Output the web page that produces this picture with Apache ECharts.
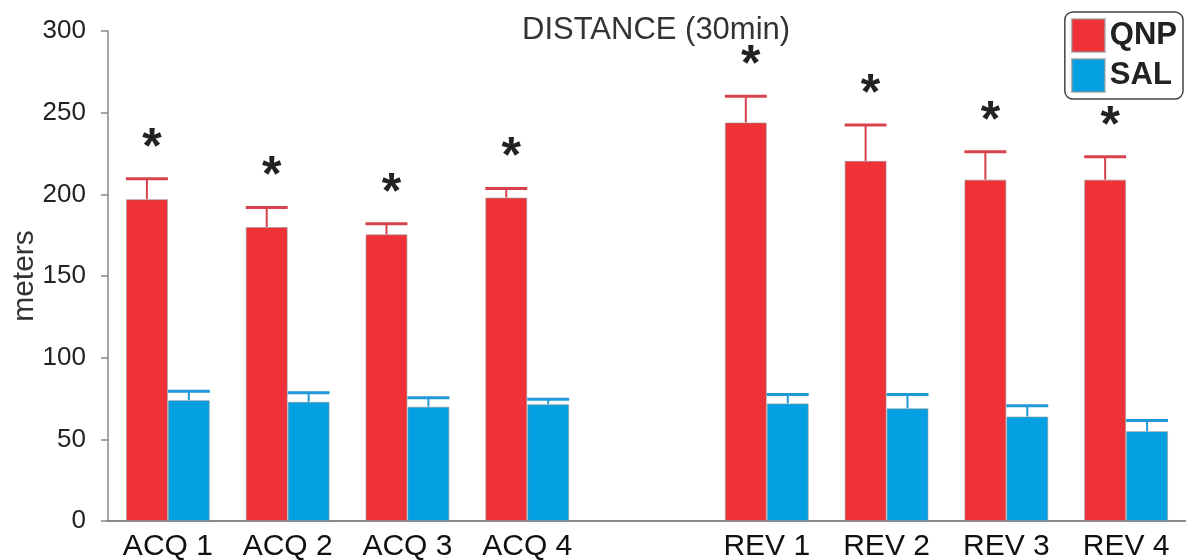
<!DOCTYPE html>
<html>
<head>
<meta charset="utf-8">
<script src="https://cdn.jsdelivr.net/npm/echarts@6/dist/echarts.min.js"></script>
<style>
html,body{margin:0;padding:0;background:#fff;}
#chart{width:1186px;height:560px;}
</style>
</head>
<body>
<div id="chart"></div>
<script>
var categories = ['ACQ 1','ACQ 2','ACQ 3','ACQ 4','','REV 1','REV 2','REV 3','REV 4'];
var qnpMean = [197, 180, 175.5, 198, null, 244, 220.5, 209, 209];
var qnpErrTop = [209.5, 192, 182, 203.5, null, 260, 242.5, 226, 223];
var salMean = [74, 73, 70, 71.5, null, 72, 69, 64, 55];
var salErrTop = [79.5, 78.5, 75.5, 74.5, null, 77.5, 77.5, 70.5, 61.5];
var significant = [true, true, true, true, false, true, true, true, true];
var yTicks = [0, 50, 100, 150, 200, 250, 300];

var RED = '#EE3237', BLUE = '#04A0E2';
var RED_ERR = '#D8424C', BLUE_ERR = '#1E98D6';

function errData(mean, top) {
  var out = [];
  for (var i = 0; i < mean.length; i++) {
    if (mean[i] != null) out.push([i, mean[i], top[i], significant[i] ? 1 : 0]);
  }
  return out;
}

function errRender(sign, color, withStar) {
  return function (params, api) {
    var xi = api.value(0), v = api.value(1), e = api.value(2);
    var base = api.coord([xi, v]);
    var top = api.coord([xi, e]);
    var band = api.size([1, 0])[0];
    var bw = band * 0.35;
    var cx = base[0] + sign * bw / 2;
    var children = [
      {type: 'line', shape: {x1: cx, y1: base[1], x2: cx, y2: top[1]}, style: {stroke: color, lineWidth: 2}},
      {type: 'line', shape: {x1: cx - bw / 2, y1: top[1], x2: cx + bw / 2, y2: top[1]}, style: {stroke: color, lineWidth: 3}}
    ];
    if (withStar && api.value(3)) {
      children.push({
        type: 'text',
        x: cx + 5, y: top[1] - 30,
        style: {text: '*', fill: '#222', font: 'bold 50px "Liberation Sans", Arial, sans-serif', align: 'center', verticalAlign: 'middle'}
      });
    }
    return {type: 'group', children: children};
  };
}

var chart = echarts.init(document.getElementById('chart'));
chart.setOption({
  animation: false,
  textStyle: {fontFamily: '"Liberation Sans", Arial, sans-serif'},
  title: {
    text: 'DISTANCE (30min)',
    left: 517, top: 10,
    textStyle: {fontSize: 31, fontWeight: 'normal', color: '#333'}
  },
  legend: {
    data: ['QNP', 'SAL'],
    orient: 'vertical',
    right: 3, top: 12,
    icon: 'rect',
    itemWidth: 33, itemHeight: 33, itemGap: 5,
    padding: [6, 6, 6, 6],
    borderColor: '#444', borderWidth: 1.5, borderRadius: 8,
    textStyle: {fontSize: 31, fontWeight: 'bold', color: '#222', padding: [0, 0, 0, 0]}
  },
  grid: {left: 108, top: 31, bottom: 39, width: 1078, outerBoundsMode: 'none', containLabel: false},
  xAxis: {
    type: 'category',
    data: categories,
    axisLine: {lineStyle: {color: '#666', width: 1.5}},
    axisTick: {show: false},
    axisLabel: {fontSize: 30, color: '#111', margin: 11, interval: 0}
  },
  yAxis: {
    type: 'value',
    min: 0, max: 300, interval: 50,
    name: 'meters',
    nameLocation: 'middle',
    nameRotate: 90,
    nameGap: 83,
    nameMoveOverlap: false,
    nameTextStyle: {fontSize: 30, color: '#333', verticalAlign: 'middle'},
    axisLine: {show: true, lineStyle: {color: '#888', width: 1.5}},
    axisTick: {show: true, length: 7, lineStyle: {color: '#888', width: 1.5}},
    splitLine: {show: false},
    axisLabel: {fontSize: 26, color: '#222', margin: 22,
      formatter: function (v) { return yTicks.indexOf(v) >= 0 ? String(v) : ''; }}
  },
  series: [
    {
      name: 'QNP', type: 'bar', data: qnpMean,
      barGap: '0%', barCategoryGap: '30%',
      itemStyle: {color: RED, borderColor: 'rgba(150,150,150,0.6)', borderWidth: 1}
    },
    {
      name: 'SAL', type: 'bar', data: salMean,
      itemStyle: {color: BLUE, borderColor: 'rgba(150,150,150,0.6)', borderWidth: 1}
    },
    {
      name: 'QNP err', type: 'custom', data: errData(qnpMean, qnpErrTop),
      renderItem: errRender(-1, RED_ERR, true), z: 3
    },
    {
      name: 'SAL err', type: 'custom', data: errData(salMean, salErrTop),
      renderItem: errRender(1, BLUE_ERR, false), z: 3
    }
  ]
});
</script>
</body>
</html>
